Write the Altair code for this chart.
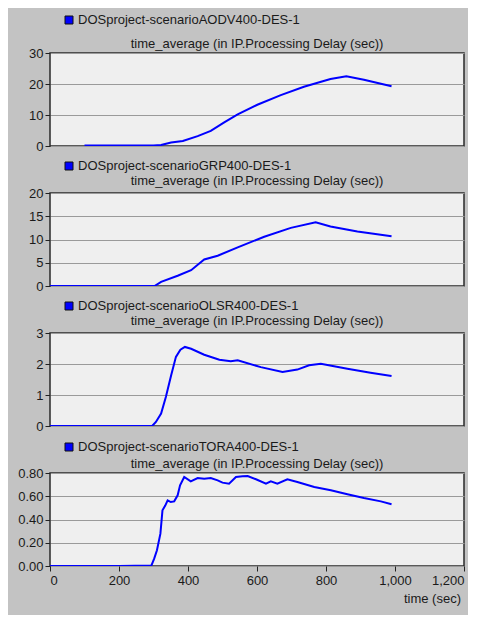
import altair as alt
import pandas as pd

# ---- data ----
aodv_t = [100, 200, 300, 322, 351, 385, 428, 466, 505, 544, 601, 669, 736, 813, 859, 910, 990]
aodv_v = [0.2, 0.2, 0.2, 0.35, 1.1, 1.6, 3.2, 4.9, 7.6, 10.2, 13.3, 16.4, 19.1, 21.6, 22.5, 21.4, 19.3]

grp_t = [0, 100, 200, 303, 322, 370, 409, 447, 486, 544, 621, 698, 770, 813, 891, 990]
grp_v = [0, 0, 0, 0, 0.9, 2.2, 3.4, 5.7, 6.5, 8.3, 10.6, 12.5, 13.7, 12.8, 11.7, 10.7]

olsr_t = [0, 100, 200, 296, 307, 322, 336, 351, 365, 378, 391, 409, 447, 491, 524, 544,
          611, 674, 717, 751, 785, 862, 929, 990]
olsr_v = [0, 0, 0, 0, 0.13, 0.4, 0.94, 1.63, 2.23, 2.46, 2.55, 2.49, 2.30, 2.14, 2.09, 2.12,
          1.90, 1.74, 1.82, 1.96, 2.01, 1.85, 1.72, 1.61]

tora_t = [0, 100, 200, 294, 302, 310, 320, 326, 334, 341, 350, 360, 370, 377, 389, 408, 428,
          447, 466, 486, 500, 519, 539, 558, 573, 597, 626, 640, 659, 688, 717, 766, 814,
          862, 910, 959, 990]
tora_v = [0, 0, 0, 0.005, 0.063, 0.135, 0.278, 0.479, 0.52, 0.565, 0.55, 0.556, 0.608, 0.694,
          0.766, 0.728, 0.757, 0.751, 0.757, 0.737, 0.717, 0.708, 0.766, 0.771, 0.774, 0.746,
          0.708, 0.728, 0.708, 0.746, 0.723, 0.680, 0.651, 0.617, 0.585, 0.556, 0.531]

series_names = [
    "DOSproject-scenarioAODV400-DES-1",
    "DOSproject-scenarioGRP400-DES-1",
    "DOSproject-scenarioOLSR400-DES-1",
    "DOSproject-scenarioTORA400-DES-1",
]
panel_title = "time_average (in IP.Processing Delay (sec))"
y_max = [30, 20, 3, 0.8]
y_ticks = [[0, 10, 20, 30], [0, 5, 10, 15, 20], [0, 1, 2, 3], [0, 0.2, 0.4, 0.6, 0.8]]
y_formats = ["d", "d", "d", ".2f"]
x_ticks = [0, 200, 400, 600, 800, 1000, 1200]
x_title = "time (sec)"

series_t = [aodv_t, grp_t, olsr_t, tora_t]
series_v = [aodv_v, grp_v, olsr_v, tora_v]

# ---- styling ----
W, H = 414, 93
FONT = "Liberation Sans"
FS = 13
TXT = "#1a1a1a"
legend_y = [-33, -27, -27, -26]
title_y = [-9, -12, -12, -9.5]

one = pd.DataFrame({"a": [0]})


def panel(i, bottom):
    df = pd.DataFrame({"t": series_t[i], "v": series_v[i]})
    if bottom:
        xaxis = alt.Axis(values=x_ticks, format=",d", title=None, grid=False,
                         domain=False, ticks=True, tickSize=5, tickColor="#222",
                         labelFont=FONT, labelFontSize=FS, labelColor=TXT,
                         labelPadding=3)
    else:
        xaxis = None
    line = alt.Chart(df).mark_line(color="#0000ff", strokeWidth=2, clip=True).encode(
        x=alt.X("t:Q", scale=alt.Scale(domain=[0, 1200], nice=False, zero=False), axis=xaxis),
        y=alt.Y("v:Q", scale=alt.Scale(domain=[0, y_max[i]], nice=False),
                axis=alt.Axis(values=y_ticks[i], format=y_formats[i], title=None,
                              grid=True, gridColor="#9a9a9a", gridWidth=1,
                              domain=False, tickSize=5, tickColor="#222",
                              labelFont=FONT, labelFontSize=FS, labelColor=TXT,
                              labelPadding=2)),
    )
    square = alt.Chart(one).mark_rect(color="#0000ff", stroke="#111", strokeWidth=1).encode(
        x=alt.value(15), x2=alt.value(23),
        y=alt.value(legend_y[i] - 4), y2=alt.value(legend_y[i] + 4),
    )
    leg = alt.Chart(one).mark_text(align="left", baseline="middle", font=FONT,
                                   fontSize=FS, color=TXT).encode(
        x=alt.value(28), y=alt.value(legend_y[i]), text=alt.value(series_names[i]))
    ttl = alt.Chart(one).mark_text(align="center", baseline="middle", font=FONT,
                                   fontSize=FS, color=TXT).encode(
        x=alt.value(W / 2), y=alt.value(title_y[i]), text=alt.value(panel_title))
    layers = [line, square, leg, ttl]
    if bottom:
        xt = alt.Chart(one).mark_text(align="right", baseline="middle", font=FONT,
                                      fontSize=FS, color=TXT).encode(
            x=alt.value(W - 3), y=alt.value(H + 33), text=alt.value(x_title))
        layers.append(xt)
    return alt.layer(*layers).properties(width=W, height=H)


chart = alt.vconcat(*[panel(i, i == 3) for i in range(4)], spacing=47, bounds="flush").properties(
    background="#c3c3c3",
    padding={"left": 8, "top": 5, "right": 2, "bottom": 8},
).configure_view(
    fill="#efefef", stroke="#2a2a2a", strokeWidth=1.5
)

chart.save("out.html", embed_options={"renderer": "svg", "actions": False})
